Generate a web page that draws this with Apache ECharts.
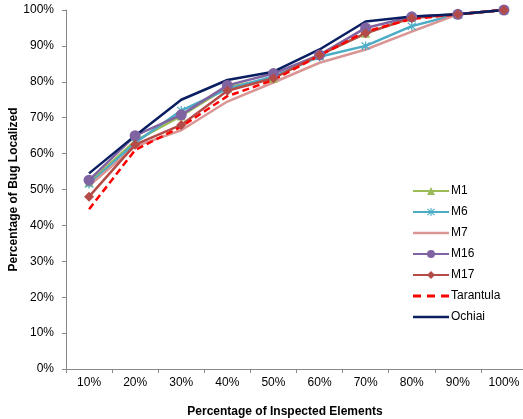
<!DOCTYPE html>
<html>
<head>
<meta charset="utf-8">
<script src="https://cdn.jsdelivr.net/npm/echarts@6/dist/echarts.min.js"></script>
<style>
html,body{margin:0;padding:0;background:#fff;}
#chart{width:523px;height:419px;}
</style>
</head>
<body>
<div id="chart"></div>
<script>
var categories = ['10%','20%','30%','40%','50%','60%','70%','80%','90%','100%'];
var yTicks = [0,10,20,30,40,50,60,70,80,90,100];
var m1 = [52, 63.5, 70.5, 78.5, 81, 87.5, 93.5, 98, 98.8, 100];
var m6 = [51.5, 63, 72, 78, 81.5, 87, 90, 95.5, 98.8, 100];
var m7 = [51, 62, 66.5, 74.5, 79.8, 85.3, 89, 94, 98.8, 100];
var m16 = [52.6, 65, 70.8, 79, 82.3, 87.5, 95, 98.1, 98.8, 100];
var m17 = [48, 62.5, 68, 77.5, 81, 87.5, 93.5, 97.8, 98.8, 100];
var tarantula = [44.5, 61, 67.5, 76, 80.5, 87.3, 94, 97.5, 98.8, 100];
var ochiai = [54.5, 65, 75, 80.5, 82.8, 89, 96.8, 98.2, 98.8, 100];

var starPath = 'path://M-0.6,-5L0.6,-5L0.6,5L-0.6,5Z M-3.58,-4.42L4.42,3.58L3.58,4.42L-4.42,-3.58Z M3.58,-4.42L4.42,-3.58L-3.58,4.42L-4.42,3.58Z';
var solidIcon = 'path://M0,0L36,0L36,2.5L0,2.5Z';
var dashIcon = 'path://M0,0L8,0L8,3L0,3Z M14,0L22,0L22,3L14,3Z M28,0L36,0L36,3L28,3Z';

var font = 'Liberation Sans, Arial, sans-serif';
var chart = echarts.init(document.getElementById('chart'), null, {renderer:'canvas'});

function line(name, data, color, symbol, size, extra) {
  var s = {
    name: name, type: 'line', data: data,
    symbol: symbol, symbolSize: size,
    showSymbol: symbol !== 'none',
    lineStyle: {color: color, width: 2.5},
    itemStyle: {color: color, borderWidth: 0},
    emphasis: {disabled: true},
    animation: false
  };
  if (extra) { for (var k in extra) s[k] = extra[k]; }
  return s;
}

chart.setOption({
  backgroundColor: '#fff',
  animation: false,
  textStyle: {fontFamily: font},
  grid: {left: 66, top: 10, bottom: 50, right: -4, containLabel: false, outerBoundsMode: 'none'},
  title: {
    text: 'Percentage of Inspected Elements',
    left: 280, top: 401, textAlign: 'center',
    textStyle: {fontFamily: font, fontSize: 12, fontWeight: 'bold', color: '#000'}
  },
  legend: {
    orient: 'vertical', left: 407, top: 179,
    itemWidth: 36, itemHeight: 10, itemGap: 7,
    textStyle: {fontFamily: font, fontSize: 12, color: '#000', lineHeight: 14, padding: [0,0,0,-3]},
    data: [
      {name: 'M1'}, {name: 'M6'},
      {name: 'M7', icon: solidIcon, itemStyle: {color: '#D99694'}},
      {name: 'M16'}, {name: 'M17'},
      {name: 'Tarantula', icon: dashIcon, itemStyle: {color: '#FF0000'}},
      {name: 'Ochiai', icon: solidIcon, itemStyle: {color: '#0A1F62'}}
    ]
  },
  xAxis: {
    type: 'category', data: categories, boundaryGap: true,
    axisLine: {lineStyle: {color: '#888', width: 1}},
    axisTick: {show: true, length: 4, lineStyle: {color: '#888'}},
    axisLabel: {color: '#000', fontSize: 12, fontFamily: font, margin: 8, interval: 0},
    splitLine: {show: false}
  },
  yAxis: {
    type: 'value', min: yTicks[0], max: yTicks[yTicks.length-1], interval: 10,
    name: 'Percentage of Bug Localized', nameLocation: 'middle', nameGap: 46,
    nameMoveOverlap: false,
    nameTextStyle: {fontFamily: font, fontSize: 12, fontWeight: 'bold', color: '#000'},
    axisLine: {show: true, lineStyle: {color: '#888', width: 1}},
    axisTick: {show: true, length: 4, lineStyle: {color: '#888'}},
    axisLabel: {color: '#000', fontSize: 12, fontFamily: font, margin: 12, formatter: '{value}%'},
    splitLine: {show: false}
  },
  series: [
    line('M1', m1, '#9BBB59', 'triangle', 9),
    line('M6', m6, '#4BACC6', starPath, 9),
    line('M7', m7, '#D99694', 'none', 0),
    line('M16', m16, '#8064A2', 'circle', 11),
    line('M17', m17, '#B34C49', 'diamond', 10),
    line('Tarantula', tarantula, '#FF0000', 'none', 0, {lineStyle: {color: '#FF0000', width: 2.5, type: [7, 4]}}),
    line('Ochiai', ochiai, '#0A1F62', 'none', 0)
  ]
});
</script>
</body>
</html>
